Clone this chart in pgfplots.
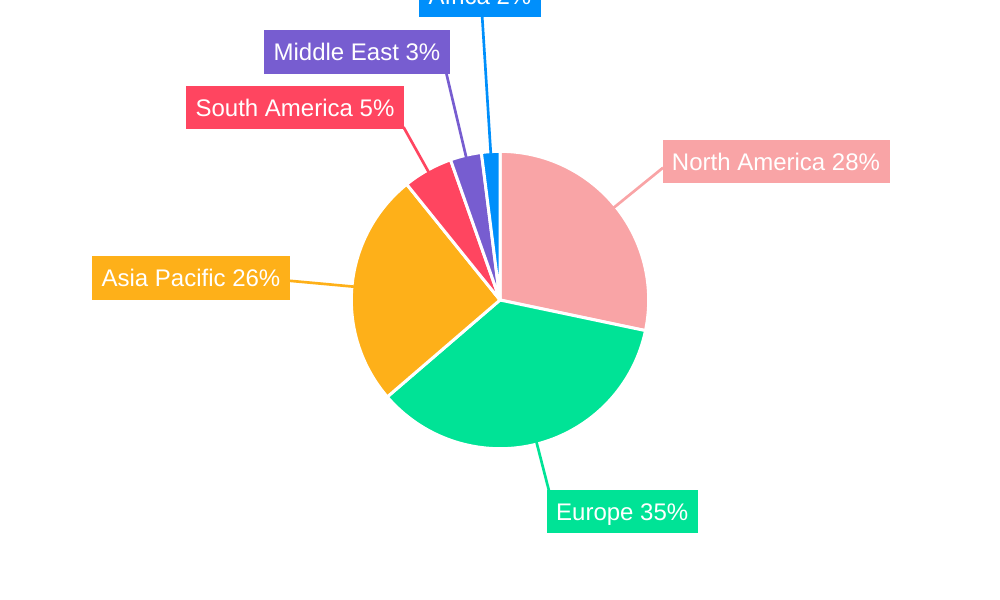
\documentclass[border=0pt]{standalone}
\usepackage{pgfplots}
\usepackage{pgfplotstable}
\pgfplotsset{compat=1.18}
\usepackage{fontspec}
\setmainfont{Liberation Sans}
\definecolor{sl0}{HTML}{F9A4A6}
\definecolor{sl1}{HTML}{00E396}
\definecolor{sl2}{HTML}{FEB019}
\definecolor{sl3}{HTML}{FF4560}
\definecolor{sl4}{HTML}{775DD0}
\definecolor{sl5}{HTML}{008FFB}

% value = share in percent; rout = leader line end radius (px); bx,by = label centre (px)
\pgfplotstableread[col sep=comma]{
name,value,rout,bx,by
North America,28.3,210,776,161.7
Europe,35.4,198,622.2,511.7
Asia Pacific,25.5,213,191,278
South America,5.4,198,295,107.7
Middle East,3.4,234,357,52
Africa,2.0,287,480,-4.5
}\piedata

\def\cum{90}
\pgfplotsforeachungrouped \i in {0,...,5}{%
  \pgfplotstablegetelem{\i}{value}\of\piedata
  \let\v\pgfplotsretval
  \pgfmathsetmacro\endang{\cum - 3.6*\v}%
  \pgfmathsetmacro\midang{(\cum+\endang)/2}%
  \expandafter\xdef\csname sa\i\endcsname{\cum}%
  \expandafter\xdef\csname ea\i\endcsname{\endang}%
  \expandafter\xdef\csname ma\i\endcsname{\midang}%
  \xdef\cum{\endang}%
  \pgfmathparse{int(round(\v))}%
  \expandafter\xdef\csname pc\i\endcsname{\pgfmathresult}%
  \pgfplotstablegetelem{\i}{name}\of\piedata
  \expandafter\xdef\csname nm\i\endcsname{\pgfplotsretval}%
  \pgfplotstablegetelem{\i}{rout}\of\piedata
  \pgfmathsetmacro\ro{0.75*\pgfplotsretval}%
  \expandafter\xdef\csname ro\i\endcsname{\ro}%
  \pgfplotstablegetelem{\i}{bx}\of\piedata
  \expandafter\xdef\csname bx\i\endcsname{\pgfplotsretval}%
  \pgfplotstablegetelem{\i}{by}\of\piedata
  \expandafter\xdef\csname by\i\endcsname{\pgfplotsretval}%
}

\begin{document}
\begin{tikzpicture}
\begin{axis}[
  x=0.75pt, y=0.75pt, y dir=reverse,
  xmin=0, xmax=1000, ymin=0, ymax=600,
  hide axis, clip=false,
]
\pgfplotsinvokeforeach{0,...,5}{
  \fill[sl#1, draw=white, line width=2.25pt, line join=round]
    (axis cs:500,300) -- ([shift={(\csname sa#1\endcsname:111.5pt)}]axis cs:500,300)
    arc[start angle=\csname sa#1\endcsname, end angle=\csname ea#1\endcsname, radius=111.5pt]
    -- cycle;
}
\pgfplotsinvokeforeach{0,...,5}{
  \draw[sl#1, line width=2pt]
    ([shift={(\csname ma#1\endcsname:110pt)}]axis cs:500,300) --
    ([shift={(\csname ma#1\endcsname:\csname ro#1\endcsname pt)}]axis cs:500,300);
}
\pgfplotsinvokeforeach{0,...,5}{
  \node[fill=sl#1, text=white, font=\fontsize{18}{21}\selectfont,
        inner xsep=7.1pt, inner ysep=0pt, minimum height=32.6pt,
        text height=12.9pt, text depth=0pt, anchor=center]
    at (axis cs:\csname bx#1\endcsname,\csname by#1\endcsname)
    {\csname nm#1\endcsname{} \csname pc#1\endcsname\%};
}
\end{axis}
\pgfresetboundingbox
\useasboundingbox (current axis.south west) rectangle (current axis.north east);
\end{tikzpicture}
\end{document}
